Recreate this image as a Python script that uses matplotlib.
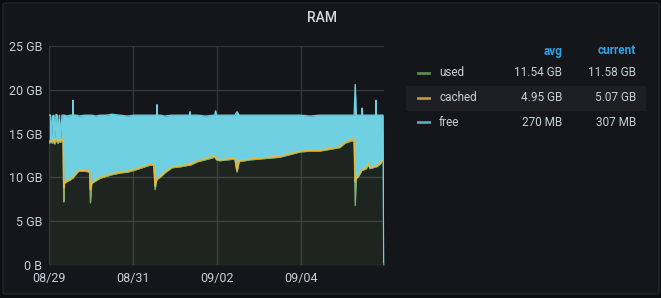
#!/usr/bin/env python3
"""RAM panel (Grafana dark style) redrawn with matplotlib."""

import matplotlib

matplotlib.use("Agg")
import matplotlib.pyplot as plt
from matplotlib.lines import Line2D
from matplotlib.patches import FancyBboxPatch, Rectangle

# time axis: days since 08/29 00:00
days = [
    0.00, 0.03, 0.05, 0.08, 0.11, 0.13, 0.16, 0.19, 0.21, 0.24,
    0.27, 0.30, 0.33, 0.345, 0.36, 0.42, 0.50, 0.555, 0.565, 0.575,
    0.66, 0.70, 0.85, 0.96, 0.98, 1.01, 1.11, 1.21, 1.35, 1.49,
    1.68, 1.87, 2.02, 2.21, 2.40, 2.49, 2.52, 2.555, 2.565, 2.575,
    2.64, 2.75, 2.92, 3.11, 3.34, 3.35, 3.36, 3.54, 3.71, 3.94,
    3.96, 3.98, 4.06, 4.24, 4.42, 4.47, 4.52, 4.78, 5.02, 5.25,
    5.49, 5.73, 5.97, 6.21, 6.44, 6.68, 6.92, 7.04, 7.16, 7.26,
    7.285, 7.31, 7.35, 7.40, 7.44, 7.45, 7.46, 7.55, 7.60, 7.64,
    7.77, 7.78, 7.79, 7.88, 7.94, 7.945, 7.965,
]
# stacked heights (GB)
used_stack_gb = [
    13.9, 14.0, 14.0, 13.9, 14.1, 13.8, 14.2, 14.0, 13.9, 14.1,
    14.0, 14.2, 14.0, 7.2, 9.3, 9.5, 9.7, 9.9, 9.9, 10.0,
    10.5, 10.7, 10.7, 10.6, 7.1, 9.3, 9.6, 9.9, 10.1, 10.3,
    10.5, 10.6, 10.8, 11.1, 11.4, 11.4, 8.6, 9.7, 9.7, 9.8,
    10.0, 10.5, 11.1, 11.2, 11.4, 11.4, 11.4, 11.8, 12.0, 12.3,
    12.2, 12.0, 11.9, 12.0, 12.1, 10.6, 11.8, 12.0, 12.1, 12.2,
    12.3, 12.6, 12.9, 13.0, 13.0, 13.2, 13.4, 13.9, 14.1, 14.2,
    6.8, 9.9, 10.0, 10.4, 10.8, 10.8, 10.8, 11.0, 11.4, 11.0,
    11.2, 11.2, 11.2, 11.5, 11.9, 0.0, 0.0,
]
cached_stack_gb = [
    14.1, 14.2, 14.2, 14.1, 14.3, 14.0, 14.4, 14.3, 14.1, 14.3,
    14.2, 14.4, 14.2, 8.8, 9.4, 9.6, 9.8, 10.0, 10.0, 10.1,
    10.6, 10.8, 10.8, 10.7, 8.6, 9.4, 9.7, 10.0, 10.2, 10.4,
    10.6, 10.7, 10.9, 11.2, 11.5, 11.5, 9.0, 9.8, 9.8, 9.9,
    10.1, 10.6, 11.2, 11.3, 11.5, 11.5, 11.5, 11.9, 12.1, 12.5,
    12.3, 12.1, 12.0, 12.1, 12.2, 10.8, 11.9, 12.1, 12.2, 12.3,
    12.4, 12.7, 13.0, 13.1, 13.1, 13.3, 13.5, 14.0, 14.3, 14.4,
    9.5, 10.0, 10.1, 10.5, 10.9, 10.9, 10.9, 11.1, 11.6, 11.1,
    11.3, 11.3, 11.3, 11.6, 12.0, 0.0, 0.0,
]
free_stack_gb = [
    17.1, 17.1, 14.4, 17.0, 17.1, 14.2, 17.2, 17.1, 14.3, 17.1,
    14.3, 17.1, 17.1, 17.1, 17.1, 17.0, 17.1, 17.1, 18.8, 17.1,
    17.1, 17.0, 17.1, 17.1, 17.1, 17.1, 17.0, 17.1, 17.1, 17.2,
    17.1, 17.0, 17.1, 17.1, 17.1, 17.1, 17.1, 17.1, 18.3, 17.1,
    17.1, 17.0, 17.1, 17.1, 17.1, 17.5, 17.1, 17.1, 17.0, 17.1,
    17.6, 17.1, 17.1, 17.1, 17.1, 17.5, 17.1, 17.1, 17.1, 17.1,
    17.1, 17.1, 17.1, 17.0, 17.1, 17.1, 17.1, 17.1, 17.1, 17.1,
    20.6, 17.1, 17.1, 17.1, 17.1, 17.9, 17.1, 17.1, 17.1, 17.1,
    17.1, 18.8, 17.1, 17.1, 17.1, 17.1, 0.25,
]

x_ticks = [0, 2, 4, 6]
x_labels = ["08/29", "08/31", "09/02", "09/04"]
y_ticks = [0, 5, 10, 15, 20, 25]
y_labels = ["0 B", "5 GB", "10 GB", "15 GB", "20 GB", "25 GB"]

series = ["used", "cached", "free"]
avg_values = ["11.54 GB", "4.95 GB", "270 MB"]
current_values = ["11.58 GB", "5.07 GB", "307 MB"]

BG = "#141619"
OUTER = "#0c0d0f"
GRID = "#36383c"
TEXT = "#c7d0d9"
GREEN = "#7eb26d"
YELLOW = "#eab839"
CYAN = "#6ed0e0"
BLUE = "#33a2e5"
LEGEND_COLORS = ["#5f8b4f", "#b8963a", "#52a9b4"]

W, H = 661, 298


def fx(x):
    return x / W


def fy(y):
    return 1 - y / H


def main():
    plt.rcParams["font.family"] = ["Roboto", "DejaVu Sans"]
    fig = plt.figure(figsize=(W / 100, H / 100), dpi=100)
    fig.patch.set_facecolor(OUTER)
    fig.patches.append(
        FancyBboxPatch(
            (fx(3), fy(294)), fx(656), (291) / H,
            boxstyle="round,pad=0,rounding_size=0.006",
            transform=fig.transFigure, facecolor=BG, edgecolor="#24262a",
            linewidth=1.0, zorder=-2,
        )
    )

    fig.text(fx(322), fy(18), "RAM", color="#d8d9da", fontsize=10,
             fontweight="medium", ha="center", va="center")

    ax = fig.add_axes([fx(49.3), fy(265), fx(384 - 49.3), (265 - 46) / H])
    ax.set_zorder(3)
    ax.set_facecolor("none")
    ax.fill_between(days, 0, used_stack_gb, color=GREEN, alpha=0.1, linewidth=0, zorder=2)
    ax.fill_between(days, used_stack_gb, free_stack_gb, color=CYAN, linewidth=0, zorder=3)
    ax.plot(days, free_stack_gb, color=CYAN, linewidth=1.0, zorder=4)
    # used/cached stop before the last sample (only free is left at the end)
    ax.plot(days[:-2], used_stack_gb[:-2], color=GREEN, linewidth=1.0, zorder=5)
    ax.plot(days[:-2], cached_stack_gb[:-2], color=YELLOW, linewidth=1.1, zorder=6)

    ax.set_xlim(0, 7.97)
    ax.set_ylim(0, 25)
    ax.set_xticks(x_ticks, x_labels)
    ax.set_yticks(y_ticks, y_labels)
    ax.grid(True, color=GRID, linewidth=0.9, zorder=1)
    ax.set_axisbelow(True)
    for spine in ax.spines.values():
        spine.set_visible(False)
    ax.tick_params(length=0, colors=TEXT, labelsize=9, pad=5)

    # legend table
    fig.patches.append(
        Rectangle((fx(406), fy(111)), fx(646 - 406), 25 / H,
                  transform=fig.transFigure, facecolor="#1d1f23", edgecolor="none",
                  zorder=-1)
    )
    fig.text(fx(562), fy(51), "avg", color=BLUE, fontsize=8.5, fontweight="bold",
             ha="right", va="center")
    fig.text(fx(636), fy(51), "current", color=BLUE, fontsize=8.5, fontweight="bold",
             ha="right", va="center")
    for i, name in enumerate(series):
        y = 73 + 24.7 * i
        fig.lines.append(
            Line2D([fx(418), fx(429)], [fy(y), fy(y)], transform=fig.transFigure,
                   color=LEGEND_COLORS[i], linewidth=2)
        )
        fig.text(fx(439), fy(y), name, color=TEXT, fontsize=8.5, ha="left", va="center")
        fig.text(fx(562), fy(y), avg_values[i], color=TEXT, fontsize=8.5,
                 ha="right", va="center")
        fig.text(fx(636), fy(y), current_values[i], color=TEXT, fontsize=8.5,
                 ha="right", va="center")

    fig.savefig("out.png", dpi=100, facecolor=fig.get_facecolor())
    plt.close(fig)


if __name__ == "__main__":
    main()
